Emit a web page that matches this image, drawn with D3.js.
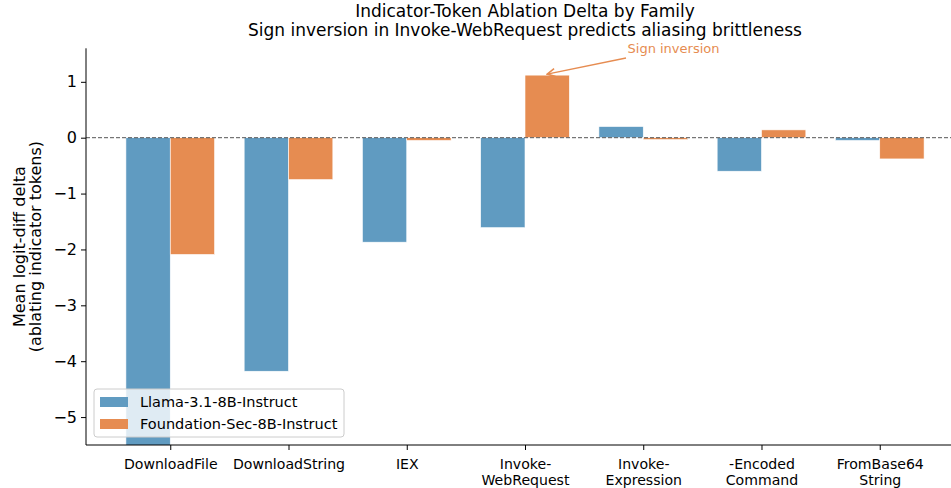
<!DOCTYPE html>
<html>
<head>
<meta charset="utf-8">
<script src="https://cdn.jsdelivr.net/npm/d3@7"></script>
<style>
  body { margin: 0; background: #fff; }
  svg text { font-family: "DejaVu Sans", sans-serif; fill: #000; }
</style>
</head>
<body>
<svg id="chart" width="951" height="488"></svg>
<script>
/* ---------- data ---------- */
const families = [
  ['DownloadFile'], ['DownloadString'], ['IEX'],
  ['Invoke-', 'WebRequest'], ['Invoke-', 'Expression'],
  ['-Encoded', 'Command'], ['FromBase64', 'String']
];
const seriesNames = ['Llama-3.1-8B-Instruct', 'Foundation-Sec-8B-Instruct'];
const llamaVals   = [-6.0, -4.18, -1.87, -1.61, 0.20, -0.60, -0.05];
const fsecVals    = [-2.09, -0.75, -0.05, 1.12, -0.035, 0.14, -0.38];
const yTicks      = [-5, -4, -3, -2, -1, 0, 1];
const colors      = ['#609bc1', '#e68c51'];

/* ---------- layout ---------- */
const svg = d3.select('#chart');
const L = 86, R = 964, T = 48.3, B = 445;
const barW = 0.375;

const x = d3.scaleLinear().domain([-0.7125, 6.7125]).range([L, R]);
const y = d3.scaleLinear().domain([-5.5, 1.6]).range([B, T]);

svg.append('clipPath').attr('id', 'plot')
  .append('rect').attr('x', L).attr('y', T).attr('width', R - L).attr('height', B - T);

/* ---------- bars ---------- */
const barG = svg.append('g').attr('clip-path', 'url(#plot)');
[llamaVals, fsecVals].forEach((vals, s) => {
  barG.selectAll(null)
    .data(vals).enter()
    .append('rect')
    .attr('x', (d, i) => x(i - barW + s * barW))
    .attr('width', x(barW) - x(0))
    .attr('y', d => y(Math.max(0, d)))
    .attr('height', d => Math.abs(y(d) - y(0)))
    .attr('fill', colors[s])
    .attr('stroke', '#fff')
    .attr('stroke-width', 0.6);
});

/* ---------- zero line ---------- */
svg.append('line')
  .attr('x1', L).attr('x2', R)
  .attr('y1', y(0)).attr('y2', y(0))
  .attr('stroke', '#555').attr('stroke-width', 1)
  .attr('stroke-dasharray', '4,2');

/* ---------- axes ---------- */
const fmt = d => d < 0 ? '\u2212' + Math.abs(d) : String(d);
const yAxis = svg.append('g')
  .attr('transform', `translate(${L},0)`)
  .call(d3.axisLeft(y).tickValues(yTicks).tickFormat(fmt).tickSize(5).tickPadding(4));

const xAxis = svg.append('g')
  .attr('transform', `translate(0,${B})`)
  .call(d3.axisBottom(x).tickValues(d3.range(families.length)).tickFormat('').tickSize(5));

[yAxis, xAxis].forEach(g => {
  g.select('.domain').attr('stroke', '#000').attr('stroke-width', 1);
  g.selectAll('.tick line').attr('stroke', '#000').attr('stroke-width', 1);
});
yAxis.select('.domain').attr('d', `M0,${B}V${T}`);
xAxis.select('.domain').attr('d', `M${L},0H${R}`);
yAxis.selectAll('.tick text').style('font-size', '16px').attr('fill', '#000');

xAxis.selectAll('.tick').each(function (d) {
  const t = d3.select(this).append('text')
    .attr('text-anchor', 'middle')
    .style('font-size', '14.1px');
  families[d].forEach((line, k) => {
    t.append('tspan').attr('x', 0).attr('y', 24 + k * 16).text(line);
  });
});

/* ---------- labels ---------- */
svg.append('text')
  .attr('transform', `translate(24.5,${(T + B) / 2}) rotate(-90)`)
  .attr('text-anchor', 'middle')
  .style('font-size', '16px')
  .text('Mean logit-diff delta');
svg.append('text')
  .attr('transform', `translate(41,${(T + B) / 2}) rotate(-90)`)
  .attr('text-anchor', 'middle')
  .style('font-size', '16px')
  .text('(ablating indicator tokens)');

const cx = (L + R) / 2;
svg.append('text').attr('x', cx).attr('y', 17)
  .attr('text-anchor', 'middle').style('font-size', '17px')
  .text('Indicator-Token Ablation Delta by Family');
svg.append('text').attr('x', cx).attr('y', 36)
  .attr('text-anchor', 'middle').style('font-size', '17px')
  .text('Sign inversion in Invoke-WebRequest predicts aliasing brittleness');

/* ---------- annotation ---------- */
const annColor = '#e68c51';
svg.append('defs').append('marker')
  .attr('id', 'arrow').attr('viewBox', '0 0 10 10')
  .attr('refX', 9).attr('refY', 5)
  .attr('markerWidth', 7).attr('markerHeight', 7)
  .attr('orient', 'auto-start-reverse')
  .append('path').attr('d', 'M1,1 L9,5 L1,9')
  .attr('fill', 'none').attr('stroke', annColor).attr('stroke-width', 1.6);

svg.append('line')
  .attr('x1', 626).attr('y1', 58)
  .attr('x2', x(3.1875)).attr('y2', y(fsecVals[3]) - 1)
  .attr('stroke', annColor).attr('stroke-width', 1.4)
  .attr('marker-end', 'url(#arrow)');
svg.append('text')
  .attr('x', 673.5).attr('y', 52.5)
  .attr('text-anchor', 'middle')
  .style('font-size', '13px')
  .style('fill', annColor)
  .text('Sign inversion');

/* ---------- legend ---------- */
const lg = svg.append('g').attr('transform', 'translate(94,389)');
lg.append('rect')
  .attr('width', 250).attr('height', 48).attr('rx', 3)
  .attr('fill', '#fff').attr('fill-opacity', 0.8)
  .attr('stroke', '#ccc');
seriesNames.forEach((n, i) => {
  lg.append('rect')
    .attr('x', 6).attr('y', 8 + i * 22)
    .attr('width', 28).attr('height', 10)
    .attr('fill', colors[i]);
  lg.append('text')
    .attr('x', 46).attr('y', 18 + i * 22)
    .style('font-size', '14.5px')
    .text(n);
});
</script>
</body>
</html>
